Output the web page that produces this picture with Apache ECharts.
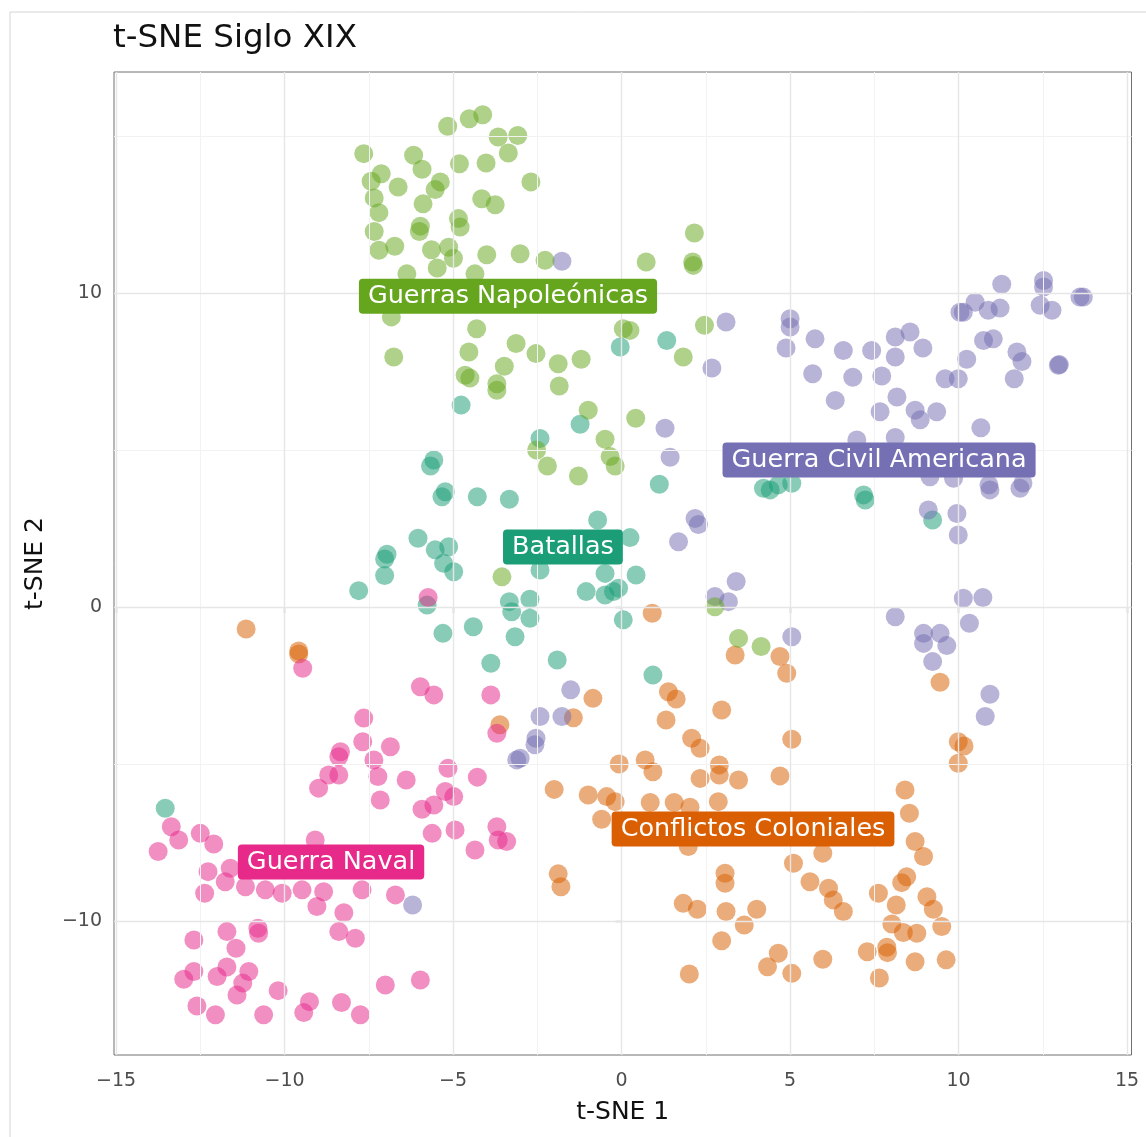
<!DOCTYPE html>
<html>
<head>
<meta charset="utf-8">
<script src="https://cdn.jsdelivr.net/npm/echarts@6/dist/echarts.min.js"></script>
<style>
html,body{margin:0;padding:0;background:#fff;}
#chart{width:1146px;height:1137px;}
</style>
</head>
<body>
<div id="chart"></div>
<script>
// ---------------- data (t-SNE coordinates) ----------------
const groupNames = ['Guerras Napoleónicas', 'Batallas', 'Guerra Civil Americana', 'Conflictos Coloniales', 'Guerra Naval'];
const groupColors = ['#66A61E', '#1B9E77', '#7570B3', '#D95F02', '#E7298A'];

const napoleonicas = [[-7.65,14.44],[-5.16,15.31],[-4.52,15.55],[-4.12,15.68],[-3.66,14.97],[-3.08,15.02],[-3.36,14.46],[-6.17,14.39],[-5.92,13.94],[-7.13,13.80],[-7.43,13.56],[-6.63,13.38],[-5.38,13.54],[-5.53,13.30],[-4.81,14.12],[-4.02,14.14],[-2.69,13.54],[-7.34,13.03],[-5.89,12.84],[-4.15,13.00],[-3.75,12.81],[-7.20,12.56],[-4.84,12.37],[-4.79,12.10],[-5.97,12.13],[-6.00,11.96],[-7.34,11.96],[-7.20,11.36],[-6.73,11.49],[-5.64,11.38],[-5.13,11.46],[-4.99,11.11],[-5.47,10.80],[-6.37,10.61],[-4.00,11.22],[-3.01,11.25],[-2.27,11.04],[0.73,10.99],[2.16,11.91],[2.11,10.99],[2.13,10.88],[-4.35,10.61],[-6.83,9.24],[-6.76,7.96],[-4.30,8.86],[-3.13,8.39],[-4.53,8.12],[-2.54,8.07],[-1.88,7.75],[-1.20,7.89],[-3.48,7.67],[-4.64,7.38],[-4.50,7.29],[-3.70,7.11],[-3.70,6.90],[-1.85,7.04],[0.25,8.81],[0.05,8.86],[1.83,7.96],[2.46,8.97],[-0.99,6.27],[0.42,6.01],[-2.52,5.00],[-2.20,4.49],[-1.28,4.17],[-0.49,5.34],[-0.34,4.79],[-0.19,4.49],[-3.55,0.96],[2.77,0.01],[3.47,-1.00],[4.14,-1.26]];

const batallas = [[-0.04,8.28],[1.34,8.49],[-4.76,6.43],[-1.23,5.82],[-2.42,5.37],[1.12,3.91],[-5.57,4.68],[-5.67,4.49],[-5.23,3.67],[-5.33,3.51],[-4.28,3.51],[-3.33,3.43],[-6.04,2.19],[-6.96,1.68],[-7.03,1.53],[-5.13,1.92],[-5.53,1.82],[-5.28,1.39],[-4.98,1.12],[-7.03,1.00],[-7.80,0.52],[-5.77,0.06],[-5.30,-0.84],[-0.71,2.77],[0.25,2.21],[-2.42,1.18],[-0.49,1.07],[0.43,1.02],[-1.05,0.49],[-0.49,0.38],[-0.24,0.49],[-0.09,0.60],[-3.33,0.17],[-2.72,0.25],[-3.26,-0.15],[-2.72,-0.36],[-3.16,-0.95],[-4.40,-0.63],[0.05,-0.41],[-3.88,-1.79],[-1.91,-1.69],[0.93,-2.17],[4.21,3.78],[4.41,3.73],[4.65,3.89],[5.05,3.94],[7.18,3.57],[7.23,3.41],[9.23,2.77],[-13.54,-6.41]];

const guerraCivil = [[-1.77,11.01],[3.10,9.08],[2.68,7.61],[5.00,9.18],[5.00,8.92],[4.88,8.25],[11.28,10.28],[12.52,10.40],[12.52,10.19],[13.70,9.87],[13.60,9.87],[10.49,9.71],[10.14,9.39],[10.04,9.39],[10.88,9.45],[11.23,9.52],[12.42,9.61],[12.77,9.45],[5.74,8.54],[6.58,8.17],[7.42,8.17],[8.12,8.60],[8.56,8.76],[8.12,7.96],[8.94,8.25],[10.74,8.49],[11.03,8.54],[10.24,7.89],[11.73,8.12],[11.88,7.82],[12.96,7.70],[12.99,7.72],[5.67,7.43],[6.86,7.32],[7.72,7.36],[9.60,7.27],[9.99,7.27],[11.65,7.27],[6.34,6.58],[8.17,6.69],[7.67,6.22],[8.71,6.27],[8.86,5.96],[9.35,6.22],[10.66,5.71],[6.98,5.32],[8.12,5.40],[9.15,4.15],[9.85,4.10],[10.93,3.73],[10.90,3.89],[11.82,3.78],[11.91,3.95],[9.10,3.09],[9.95,2.98],[9.99,2.29],[1.29,5.69],[1.44,4.77],[2.18,2.82],[2.28,2.63],[1.69,2.08],[2.77,0.33],[3.17,0.17],[3.40,0.81],[5.05,-0.95],[10.14,0.28],[10.72,0.30],[8.12,-0.31],[10.32,-0.52],[8.96,-0.84],[8.96,-1.16],[9.45,-0.84],[9.65,-1.23],[9.23,-1.74],[10.93,-2.78],[10.79,-3.49],[-1.51,-2.64],[-2.42,-3.49],[-1.77,-3.49],[-2.54,-4.18],[-2.57,-4.39],[-3.01,-4.82],[-3.11,-4.87],[-6.20,-9.49]];

const coloniales = [[-11.14,-0.70],[-9.58,-1.50],[-9.58,-1.40],[0.91,-0.20],[3.37,-1.53],[4.70,-1.58],[4.90,-2.11],[9.45,-2.40],[-0.85,-2.91],[1.39,-2.70],[1.62,-2.93],[-1.43,-3.53],[-3.61,-3.75],[1.32,-3.60],[2.97,-3.28],[2.08,-4.18],[2.33,-4.50],[5.05,-4.21],[9.99,-4.29],[10.16,-4.43],[9.99,-4.98],[-0.07,-5.00],[0.70,-4.87],[0.93,-5.25],[2.33,-5.46],[2.90,-5.03],[2.90,-5.35],[3.47,-5.51],[4.70,-5.38],[-2.00,-5.81],[-0.99,-5.99],[-0.44,-6.04],[-0.19,-6.20],[-0.59,-6.76],[0.85,-6.23],[1.56,-6.23],[2.03,-6.38],[2.87,-6.20],[1.98,-7.63],[8.41,-5.83],[8.54,-6.57],[8.71,-7.47],[8.96,-7.95],[5.97,-7.84],[5.10,-8.16],[5.59,-8.75],[6.14,-8.96],[6.28,-9.33],[6.58,-9.70],[8.46,-8.59],[8.31,-8.78],[7.62,-9.12],[8.15,-9.49],[9.06,-9.23],[9.25,-9.63],[9.50,-10.18],[8.02,-10.10],[8.36,-10.37],[8.76,-10.39],[7.29,-10.98],[7.87,-10.84],[7.89,-11.01],[5.97,-11.22],[8.71,-11.30],[9.63,-11.24],[7.65,-11.82],[5.05,-11.67],[4.65,-11.03],[4.33,-11.46],[-1.88,-8.50],[-1.80,-8.91],[3.07,-8.48],[3.07,-8.80],[1.83,-9.44],[2.25,-9.63],[3.10,-9.70],[4.01,-9.63],[3.64,-10.13],[2.97,-10.63],[2.01,-11.69]];

const guerraNaval = [[-5.74,0.30],[-9.46,-1.95],[-5.97,-2.54],[-5.57,-2.80],[-3.88,-2.80],[-7.65,-3.54],[-3.70,-4.02],[-7.68,-4.29],[-8.34,-4.61],[-8.39,-4.77],[-6.86,-4.45],[-7.35,-4.87],[-8.69,-5.35],[-8.39,-5.35],[-7.23,-5.40],[-8.99,-5.77],[-6.39,-5.51],[-7.16,-6.15],[-5.15,-5.14],[-4.28,-5.42],[-5.92,-6.44],[-5.57,-6.31],[-5.23,-5.88],[-4.98,-6.04],[-5.62,-7.21],[-4.94,-7.10],[-3.70,-7.00],[-3.66,-7.42],[-3.41,-7.47],[-4.35,-7.74],[-13.36,-7.00],[-13.14,-7.42],[-13.75,-7.79],[-12.50,-7.21],[-12.10,-7.55],[-12.27,-8.43],[-11.76,-8.75],[-11.61,-8.32],[-12.37,-9.12],[-11.16,-8.91],[-10.57,-9.01],[-10.07,-9.12],[-9.48,-9.01],[-8.84,-9.07],[-9.04,-9.54],[-8.24,-9.74],[-7.70,-9.01],[-9.09,-7.42],[-6.71,-9.17],[-12.69,-10.61],[-11.71,-10.34],[-11.44,-10.87],[-10.79,-10.23],[-10.77,-10.39],[-8.39,-10.34],[-7.90,-10.55],[-12.99,-11.86],[-12.69,-11.61],[-12.00,-11.77],[-11.71,-11.47],[-11.06,-11.61],[-11.24,-11.98],[-11.41,-12.36],[-12.60,-12.71],[-12.05,-12.99],[-10.19,-12.22],[-10.62,-12.99],[-9.26,-12.57],[-9.43,-12.92],[-8.31,-12.60],[-7.75,-12.99],[-7.01,-12.04],[-5.97,-11.88]];

const groupData = [napoleonicas, batallas, guerraCivil, coloniales, guerraNaval];

// cluster label positions
const labelX = [-3.37, -1.74, 7.64, 3.90, -8.62];
const labelY = [9.90, 1.91, 4.68, -7.07, -8.12];

// axes
const xTickValues = [-15, -10, -5, 0, 5, 10, 15];
const yTickValues = [-10, 0, 10];
const xMinorGrid = [-12.5, -7.5, -2.5, 2.5, 7.5, 12.5];
const yMinorGrid = [-5, 5, 15];
const xRange = [-15.06, 15.13];
const yRange = [-14.27, 17.04];

// ---------------- chart ----------------
const chart = echarts.init(document.getElementById('chart'), null, {renderer: 'canvas'});
const FONT = 'DejaVu Sans';
const fmtMinus = v => String(v).replace('-', '\u2212');

const gridLines = [];
xMinorGrid.forEach(v => gridLines.push({xAxis: v, lineStyle: {color: '#f2f2f2', width: 1, type: 'solid'}}));
yMinorGrid.forEach(v => gridLines.push({yAxis: v, lineStyle: {color: '#f2f2f2', width: 1, type: 'solid'}}));
xTickValues.forEach(v => gridLines.push({xAxis: v, lineStyle: {color: '#e6e6e6', width: 1.4, type: 'solid'}}));
yTickValues.forEach(v => gridLines.push({yAxis: v, lineStyle: {color: '#e6e6e6', width: 1.4, type: 'solid'}}));

const series = [{
  type: 'scatter', name: 'grid', data: [], silent: true, z: 1,
  markLine: {silent: true, symbol: ['none', 'none'], label: {show: false}, animation: false,
    lineStyle: {type: 'solid'}, emphasis: {disabled: true}, data: gridLines}
}];
const drawOrder = [1, 3, 2, 4, 0];
drawOrder.forEach(i => {
  series.push({
    type: 'scatter', name: groupNames[i], data: groupData[i], z: 3,
    symbol: 'circle', symbolSize: 19,
    itemStyle: {color: groupColors[i], opacity: 0.52},
    emphasis: {disabled: true}
  });
});
series.push({
  type: 'scatter', name: 'labels', z: 10, symbolSize: 0, silent: true,
  itemStyle: {opacity: 1},
  emphasis: {disabled: true},
  data: groupNames.map((n, i) => ({
    name: n, value: [labelX[i], labelY[i]],
    label: {backgroundColor: groupColors[i]}
  })),
  label: {
    show: true, position: 'inside', formatter: p => p.name, opacity: 1,
    color: '#fff', fontFamily: FONT, fontSize: 25.5, padding: [5, 9, 4, 9],
    borderRadius: 4
  }
});

chart.setOption({
  animation: false,
  backgroundColor: '#fff',
  title: {
    text: 't-SNE Siglo XIX', left: 108, top: 17,
    textStyle: {fontFamily: FONT, fontSize: 32.5, fontWeight: 'normal', color: '#111'}
  },
  graphic: [{
    type: 'rect', left: 7.5, top: 9.5, silent: true, z: -10,
    shape: {width: 1200, height: 1200},
    style: {fill: 'none', stroke: '#d4d4d4', lineWidth: 1}
  }],
  grid: {
    left: 114, right: 14.5, top: 72, bottom: 82,
    show: true, borderColor: '#707070', borderWidth: 1, backgroundColor: '#fff'
  },
  xAxis: {
    type: 'value', min: xRange[0], max: xRange[1],
    name: 't-SNE 1', nameLocation: 'middle', nameGap: 45,
    nameTextStyle: {fontFamily: FONT, fontSize: 25, color: '#111'},
    axisLine: {show: false},
    axisTick: {show: true, customValues: xTickValues, length: 6, lineStyle: {color: '#444', width: 1.2}},
    axisLabel: {customValues: xTickValues, formatter: fmtMinus, fontFamily: FONT, fontSize: 19, color: '#4d4d4d', margin: 17},
    splitLine: {show: false}
  },
  yAxis: {
    type: 'value', min: yRange[0], max: yRange[1],
    name: 't-SNE 2', nameLocation: 'middle', nameGap: 66,
    nameTextStyle: {fontFamily: FONT, fontSize: 25, color: '#111'},
    axisLine: {show: false},
    axisTick: {show: true, customValues: yTickValues, length: 6, lineStyle: {color: '#444', width: 1.2}},
    axisLabel: {customValues: yTickValues, formatter: fmtMinus, fontFamily: FONT, fontSize: 19, color: '#4d4d4d', margin: 12},
    splitLine: {show: false}
  },
  series: series
});
</script>
</body>
</html>
